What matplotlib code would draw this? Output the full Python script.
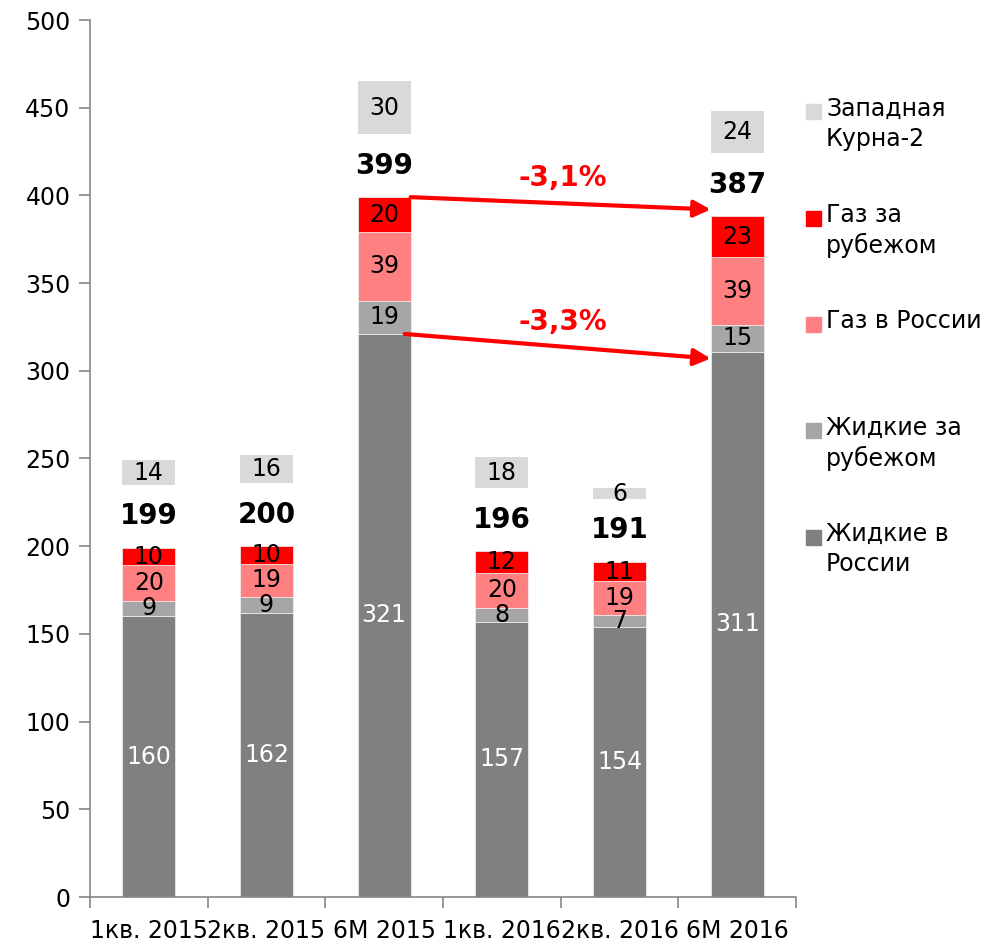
import numpy as np
import matplotlib.pyplot as plt
from matplotlib.patches import Rectangle

plt.rcParams['font.family'] = ['DejaVu Sans']

categories = ["1кв. 2015", "2кв. 2015", "6M 2015", "1кв. 2016", "2кв. 2016", "6M 2016"]
liq_ru   = [160, 162, 321, 157, 154, 311]   # Жидкие в России
liq_abr  = [9, 9, 19, 8, 7, 15]             # Жидкие за рубежом
gas_ru   = [20, 19, 39, 20, 19, 39]         # Газ в России
gas_abr  = [10, 10, 20, 12, 11, 23]         # Газ за рубежом
totals   = [199, 200, 399, 196, 191, 387]
kurna    = [14, 16, 30, 18, 6, 24]          # Западная Курна-2
changes  = ["-3,1%", "-3,3%"]

series = [
    (liq_ru,  "#808080", "white", "Жидкие в\nРоссии"),
    (liq_abr, "#a6a6a6", "black", "Жидкие за\nрубежом"),
    (gas_ru,  "#ff8080", "black", "Газ в России"),
    (gas_abr, "#ff0000", "black", "Газ за\nрубежом"),
]
kurna_color = "#d9d9d9"
gap = 36
w = 0.45
fs = 17

fig = plt.figure(figsize=(9.84, 9.46), dpi=100)
ax = fig.add_axes([90/984, 49/946, 706/984, 877/946])

x = np.arange(len(categories))
bottom = np.zeros(len(categories))
for vals, col, tcol, lab in series:
    vals = np.array(vals, float)
    ax.bar(x, vals, w, bottom=bottom, color=col, edgecolor='#f2f2f2', linewidth=0.5)
    for xi, b, v in zip(x, bottom, vals):
        ax.text(xi, b + v/2, str(int(v)), ha='center', va='center', fontsize=fs, color=tcol)
    bottom = bottom + vals

kb = bottom + gap
ax.bar(x, kurna, w, bottom=kb, color=kurna_color)
for xi, b, v in zip(x, kb, kurna):
    ax.text(xi, b + v/2, str(v), ha='center', va='center', fontsize=fs, color='black')

for xi, b, t in zip(x, bottom, totals):
    ax.text(xi, b + gap/2, str(t), ha='center', va='center', fontsize=20, fontweight='bold')

# arrows 6M 2015 -> 6M 2016
ax.annotate("", xy=(5 - w/2, bottom[5] + 4), xytext=(2 + w/2, bottom[2]),
            arrowprops=dict(arrowstyle='-|>', color='red', lw=3, mutation_scale=25, shrinkA=0, shrinkB=0))
low2 = liq_ru[2]
low5 = liq_ru[5]
ax.annotate("", xy=(5 - w/2, low5 - 4), xytext=(2 + w/2 - 0.05, low2),
            arrowprops=dict(arrowstyle='-|>', color='red', lw=3, mutation_scale=25, shrinkA=0, shrinkB=0))
ax.text(3.52, 410, changes[0], ha='center', va='center', fontsize=20, fontweight='bold', color='red')
ax.text(3.52, 328, changes[1], ha='center', va='center', fontsize=20, fontweight='bold', color='red')

ax.set_xlim(-0.5, len(categories) - 0.5)
ax.set_ylim(0, 500)
ax.set_yticks(np.arange(0, 501, 50))
ax.set_xticks(x)
ax.set_xticklabels(categories, fontsize=fs)
ax.set_xticks(np.arange(len(categories) + 1) - 0.5, minor=True)
ax.tick_params(axis='x', which='major', length=0, pad=16)
ax.tick_params(axis='x', which='minor', length=8, color='#868686', width=1.2)
ax.tick_params(axis='y', length=8, color='#868686', width=1.2, labelsize=fs, pad=6)
for s in ['top', 'right']:
    ax.spines[s].set_visible(False)
for s in ['left', 'bottom']:
    ax.spines[s].set_color('#868686')
    ax.spines[s].set_linewidth(1.2)

# legend on the right
leg = [("Западная\nКурна-2", kurna_color)] + [(lab, col) for _, col, _, lab in reversed(series)]
for i, (lab, col) in enumerate(leg):
    yc = 946 - (112 + 106.25 * i)
    fig.add_artist(Rectangle((806/984, (yc - 7.5)/946), 15/984, 15/946, color=col,
                             transform=fig.transFigure))
    fig.text(826/984, (yc + 15)/946, lab, ha='left', va='top', fontsize=fs, linespacing=1.3)

fig.savefig("out.png", dpi=100)
